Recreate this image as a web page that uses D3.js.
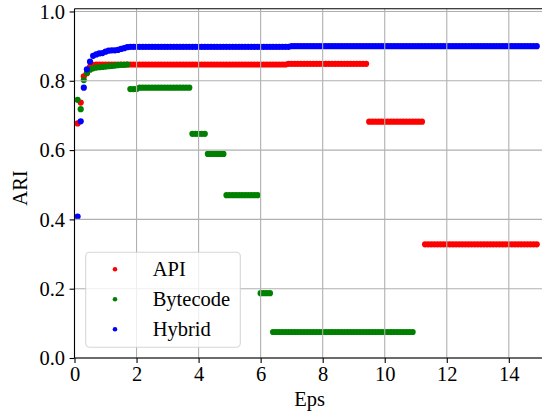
<!DOCTYPE html>
<html>
<head>
<meta charset="utf-8">
<script src="https://cdn.jsdelivr.net/npm/d3@7"></script>
<style>
  html, body { margin: 0; padding: 0; background: #fff; }
  svg { display: block; }
</style>
</head>
<body>
<svg id="chart" width="542" height="411"></svg>
<script>
// ---- data ----
const epsStep = 0.1;
const seriesNames = ["API", "Bytecode", "Hybrid"];
const seriesColors = ["#ff0000", "#008000", "#0000ff"];

// individual early points [eps, ARI]
const apiPoints = [[0.1,0.677],[0.2,0.737],[0.3,0.813],[0.4,0.822],[0.5,0.840],[0.6,0.846]];
const bytecodePoints = [[0.1,0.745],[0.2,0.718],[0.3,0.802],[0.4,0.823],[0.5,0.832],[0.6,0.836],[0.7,0.838],[0.8,0.839],[0.9,0.840],[1.0,0.841],[1.1,0.842],[1.2,0.843],[1.3,0.844],[1.4,0.845],[1.5,0.846],[1.6,0.846],[1.7,0.847]];
const hybridPoints = [[0.1,0.408],[0.2,0.683],[0.3,0.780],[0.4,0.833],[0.5,0.855],[0.6,0.872],[0.7,0.876],[0.8,0.879],[0.9,0.880],[1.0,0.884],[1.1,0.887],[1.2,0.888],[1.3,0.888],[1.4,0.889],[1.5,0.892],[1.6,0.894],[1.7,0.897]];

// plateaus of constant ARI: [first eps, last eps, ARI], sampled every epsStep
const apiRuns = [[0.7,6.8,0.847],[6.9,9.4,0.849],[9.5,11.2,0.682],[11.3,14.9,0.328]];
const bytecodeRuns = [[1.8,2.0,0.776],[2.1,3.7,0.780],[3.8,4.2,0.647],[4.3,4.8,0.589],[4.9,5.9,0.470],[6.0,6.3,0.187],[6.4,10.9,0.075]];
const hybridRuns = [[1.8,6.9,0.898],[7.0,14.9,0.900]];

const xTicks = [0, 2, 4, 6, 8, 10, 12, 14];
const yTicks = [0.0, 0.2, 0.4, 0.6, 0.8, 1.0];

// ---- build series ----
function expand(points, runs) {
  const out = points.map(p => ({eps: p[0], ari: p[1]}));
  runs.forEach(r => {
    const k0 = Math.round(r[0] / epsStep), k1 = Math.round(r[1] / epsStep);
    d3.range(k0, k1 + 1).forEach(k => out.push({eps: +(k * epsStep).toFixed(2), ari: r[2]}));
  });
  return out;
}
const series = [
  expand(apiPoints, apiRuns),
  expand(bytecodePoints, bytecodeRuns),
  expand(hybridPoints, hybridRuns)
];

// ---- layout ----
const FONT = "'Liberation Serif', 'Times New Roman', Times, serif";
const FS = 20.5;
const pL = 74.5, pR = 544.5, pT = 8.7, pB = 358;
const x = d3.scaleLinear().domain([0, 15.15]).range([pL, pR]);
const y = d3.scaleLinear().domain([0, 1.008]).range([pB, pT]);

const svg = d3.select("#chart");
const defs = svg.append("defs");
defs.append("clipPath").attr("id", "plotclip")
  .append("rect").attr("x", pL).attr("y", pT).attr("width", pR - pL).attr("height", pB - pT);

// scatter
const plot = svg.append("g").attr("clip-path", "url(#plotclip)");
series.forEach((s, i) => {
  plot.append("g").selectAll("circle").data(s).join("circle")
    .attr("cx", d => x(d.eps))
    .attr("cy", d => y(d.ari))
    .attr("r", 3.1)
    .attr("fill", seriesColors[i]);
});

// grid (above scatter as in matplotlib)
const grid = svg.append("g").attr("stroke", "#b0b0b0").attr("stroke-width", 1.1);
xTicks.forEach(t => grid.append("line").attr("x1", x(t)).attr("x2", x(t)).attr("y1", pT).attr("y2", pB));
yTicks.forEach(t => grid.append("line").attr("x1", pL).attr("x2", pR).attr("y1", y(t)).attr("y2", y(t)));

// axes
const xAxis = d3.axisBottom(x).tickValues(xTicks).tickFormat(d3.format("d")).tickSizeInner(4.9).tickSizeOuter(0).tickPadding(4.2);
const yAxis = d3.axisLeft(y).tickValues(yTicks).tickFormat(d3.format(".1f")).tickSizeInner(4.9).tickSizeOuter(0).tickPadding(4.5);

const gx = svg.append("g").attr("transform", `translate(0,${pB})`).call(xAxis);
const gy = svg.append("g").attr("transform", `translate(${pL},0)`).call(yAxis);
[gx, gy].forEach(g => {
  g.select(".domain").remove();
  g.selectAll(".tick line").attr("stroke", "#000").attr("stroke-width", 1.1);
  g.selectAll(".tick text").attr("font-family", FONT).attr("font-size", FS).attr("fill", "#000");
});
gy.selectAll(".tick text").attr("dy", "0.33em");
gx.selectAll(".tick text").attr("dy", "0.7em");

// spines
svg.append("line").attr("x1", pL).attr("x2", pL).attr("y1", pT).attr("y2", pB).attr("stroke", "#000").attr("stroke-width", 1.1);
svg.append("line").attr("x1", pL).attr("x2", pR).attr("y1", pB).attr("y2", pB).attr("stroke", "#000").attr("stroke-width", 1.1);
svg.append("line").attr("x1", pL).attr("x2", pR).attr("y1", pT).attr("y2", pT).attr("stroke", "#000").attr("stroke-width", 1.1);

// axis labels
svg.append("text").attr("x", (pL + pR) / 2).attr("y", 406)
  .attr("text-anchor", "middle").attr("font-family", FONT).attr("font-size", FS).text("Eps");
svg.append("text").attr("transform", "translate(26.5,188) rotate(-90)")
  .attr("text-anchor", "middle").attr("font-family", FONT).attr("font-size", FS).text("ARI");

// legend
const lg = svg.append("g");
lg.append("rect").attr("x", 85.7).attr("y", 252.3).attr("width", 154.6).attr("height", 95)
  .attr("rx", 4).attr("ry", 4)
  .attr("fill", "#fff").attr("fill-opacity", 0.8)
  .attr("stroke", "#cccccc").attr("stroke-opacity", 0.8).attr("stroke-width", 1.1);
seriesNames.forEach((name, i) => {
  const cy = 269.3 + i * 30;
  lg.append("circle").attr("cx", 115).attr("cy", cy).attr("r", 2.3).attr("fill", seriesColors[i]);
  lg.append("text").attr("x", 152.7).attr("y", cy + 6.3)
    .attr("font-family", FONT).attr("font-size", FS).attr("fill", "#000").text(name);
});
</script>
</body>
</html>
